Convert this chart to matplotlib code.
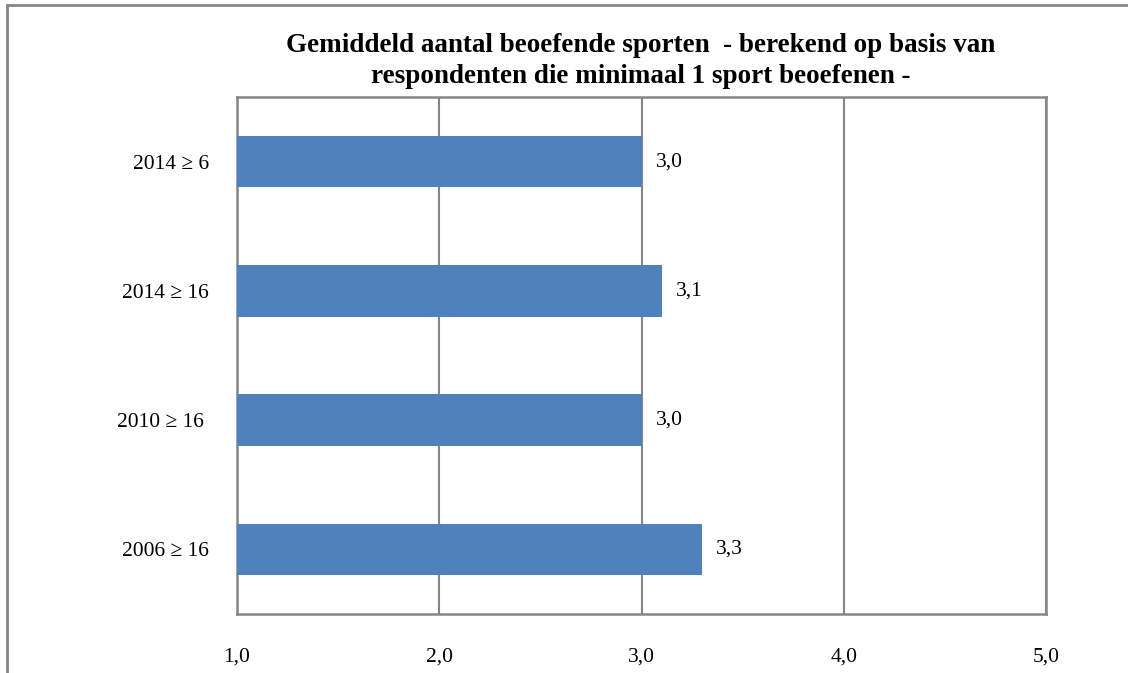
import matplotlib
matplotlib.use("Agg")
import matplotlib.pyplot as plt
from matplotlib.lines import Line2D

categories = ["2014 \u2265 6", "2014 \u2265 16", "2010 \u2265 16 ", "2006 \u2265 16"]
values = [3.0, 3.1, 3.0, 3.3]
xticks = [1.0, 2.0, 3.0, 4.0, 5.0]
title = ("Gemiddeld aantal beoefende sporten  - berekend op basis van\n"
         "respondenten die minimaal 1 sport beoefenen -")

plt.rcParams['font.family'] = ['Liberation Serif', 'DejaVu Serif']

fig = plt.figure(figsize=(11.28, 6.73), dpi=100)
ax = fig.add_axes([237/1128, 1-614/673, (1046-237)/1128, (614-97)/673])

gray = "#868686"
ypos = list(range(len(categories)))
ax.barh(ypos, [v - 1.0 for v in values], left=1.0, height=0.4,
        color="#4F81BD", zorder=3)
ax.set_ylim(len(categories) - 0.5, -0.5)
ax.set_xlim(1.0, 5.0)
ax.set_yticks(ypos)
ax.set_yticklabels(categories, fontsize=15.5)
ax.set_xticks(xticks)
ax.set_xticklabels([f"{t:.1f}".replace(".", ",") for t in xticks], fontsize=15.5)
ax.tick_params(axis='both', length=0)
ax.tick_params(axis='y', pad=20)
ax.tick_params(axis='x', pad=24)
ax.grid(axis='x', color=gray, linewidth=1.5, zorder=0)
for s in ax.spines.values():
    s.set_color(gray)
    s.set_linewidth(1.8)

for y, v in zip(ypos, values):
    ax.annotate(f"{v:.1f}".replace(".", ","), xy=(v, y), xytext=(10, 0),
                textcoords="offset points", va="center", ha="left", fontsize=15.5)

fig.text(641/1128, 1-61/673, title, ha="center", va="center",
         fontsize=19.5, fontweight="bold", linespacing=1.3)

# outer border (top and left)
fig.add_artist(Line2D([7/1128, 7/1128], [0, 1-5/673], transform=fig.transFigure,
                      color=gray, linewidth=2))
fig.add_artist(Line2D([7/1128, 1], [1-5/673, 1-5/673], transform=fig.transFigure,
                      color=gray, linewidth=2))

fig.savefig("out.png", dpi=100)
